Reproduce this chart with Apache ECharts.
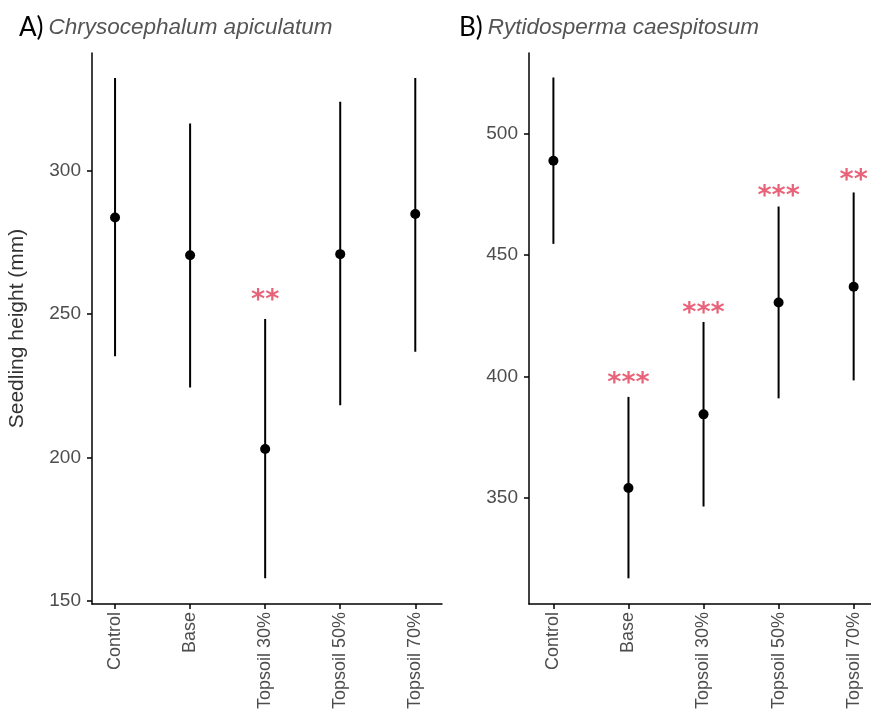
<!DOCTYPE html>
<html>
<head>
<meta charset="utf-8">
<script src="https://cdn.jsdelivr.net/npm/echarts@6/dist/echarts.min.js"></script>
<style>
  html, body { margin: 0; padding: 0; background: #fff; }
  #chart { width: 871px; height: 717px; }
</style>
</head>
<body>
<div id="chart"></div>
<script>
// treatments on the x axis
const categories = ['Control', 'Base', 'Topsoil 30%', 'Topsoil 50%', 'Topsoil 70%'];
const catIndex = [0, 1, 2, 3, 4];

// A) Chrysocephalum apiculatum
const aMean = [283.7, 270.5, 202.9, 270.9, 284.9];
const aLow = [235.3, 224.4, 157.8, 218.2, 236.8];
const aHigh = [332.4, 316.5, 248.3, 324.1, 332.4];
const aStars = ['', '', '**', '', ''];
const aStarY = [null, null, 256.6, null, null];
const aTicks = [150, 200, 250, 300];

// B) Rytidosperma caespitosum
const bMean = [488.9, 353.9, 384.3, 430.4, 436.9];
const bLow = [454.6, 316.7, 346.3, 390.9, 398.3];
const bHigh = [523.2, 391.5, 422.4, 470.0, 475.8];
const bStars = ['', '***', '***', '***', '**'];
const bStarY = [null, 399.5, 428.1, 476.2, 482.8];
const bTicks = [350, 400, 450, 500];

const tickFont = 'Liberation Sans, Arial, sans-serif';

function xAxisFor(gridIndex, min, max) {
  return {
    type: 'value', gridIndex, min, max,
    axisLine: { onZero: false, lineStyle: { color: '#000', width: 1.5 } },
    axisTick: { customValues: catIndex, length: 5, lineStyle: { color: '#000', width: 1.5 } },
    axisLabel: {
      customValues: catIndex, rotate: 90, margin: 8,
      formatter: v => categories[v], color: '#4d4d4d', fontSize: 18, fontFamily: tickFont
    },
    splitLine: { show: false }
  };
}

function yAxisFor(gridIndex, min, max, ticks, name) {
  return {
    type: 'value', gridIndex, min, max,
    name, nameLocation: 'middle', nameGap: 64,
    nameTextStyle: { color: '#333', fontSize: 21, fontFamily: tickFont },
    axisLine: { show: true, onZero: false, lineStyle: { color: '#000', width: 1.5 } },
    axisTick: { show: true, customValues: ticks, length: 5, lineStyle: { color: '#000', width: 1.5 } },
    axisLabel: { customValues: ticks, margin: 11, color: '#4d4d4d', fontSize: 19, fontFamily: tickFont },
    splitLine: { show: false }
  };
}

function errorBars(idx, low, high) {
  return {
    type: 'custom', xAxisIndex: idx, yAxisIndex: idx,
    data: catIndex.map(i => [i, low[i], high[i]]),
    renderItem: (params, api) => {
      const lo = api.coord([api.value(0), api.value(1)]);
      const hi = api.coord([api.value(0), api.value(2)]);
      return {
        type: 'line',
        shape: { x1: lo[0], y1: lo[1], x2: hi[0], y2: hi[1] },
        style: { stroke: '#000', lineWidth: 2 }
      };
    },
    z: 2
  };
}

function means(idx, mean) {
  return {
    type: 'scatter', xAxisIndex: idx, yAxisIndex: idx,
    data: catIndex.map(i => [i, mean[i]]),
    symbolSize: 10, itemStyle: { color: '#000', opacity: 1 }, z: 3
  };
}

function stars(idx, starY, marks) {
  return {
    type: 'scatter', xAxisIndex: idx, yAxisIndex: idx,
    data: catIndex.filter(i => starY[i] != null).map(i => [i, starY[i], marks[i]]),
    symbolSize: 1, itemStyle: { color: 'rgba(0,0,0,0)' },
    label: {
      show: true, position: 'inside', offset: [0, 6], formatter: p => p.value[2],
      color: '#e23c58', fontSize: 27, fontWeight: 'bold', fontFamily: 'DejaVu Sans, sans-serif'
    },
    z: 4
  };
}

const titleRich = {
  a: { fontSize: 26, color: '#000', fontWeight: 'normal', fontFamily: 'Lato, sans-serif' },
  b: { fontSize: 22.5, color: '#555', fontWeight: 'normal', fontStyle: 'italic', fontFamily: tickFont }
};

const chart = echarts.init(document.getElementById('chart'));
chart.setOption({
  animation: false,
  title: [
    {
      text: '{a|A)} {b|Chrysocephalum apiculatum}', left: 14, top: 10,
      textStyle: { fontWeight: 'normal', rich: titleRich }
    },
    {
      text: '{a|B)} {b|Rytidosperma caespitosum}', left: 454, top: 10,
      textStyle: { fontWeight: 'normal', rich: titleRich }
    }
  ],
  grid: [
    { left: 92, top: 53, width: 350, height: 551 },
    { left: 529, top: 53, width: 342, height: 551 }
  ],
  xAxis: [xAxisFor(0, -0.307, 4.356), xAxisFor(1, -0.325, 4.231)],
  yAxis: [
    yAxisFor(0, 148.8, 341.1, aTicks, 'Seedling height (mm)'),
    yAxisFor(1, 306.1, 533.3, bTicks, '')
  ],
  series: [
    errorBars(0, aLow, aHigh), means(0, aMean), stars(0, aStarY, aStars),
    errorBars(1, bLow, bHigh), means(1, bMean), stars(1, bStarY, bStars)
  ]
});
</script>
</body>
</html>
